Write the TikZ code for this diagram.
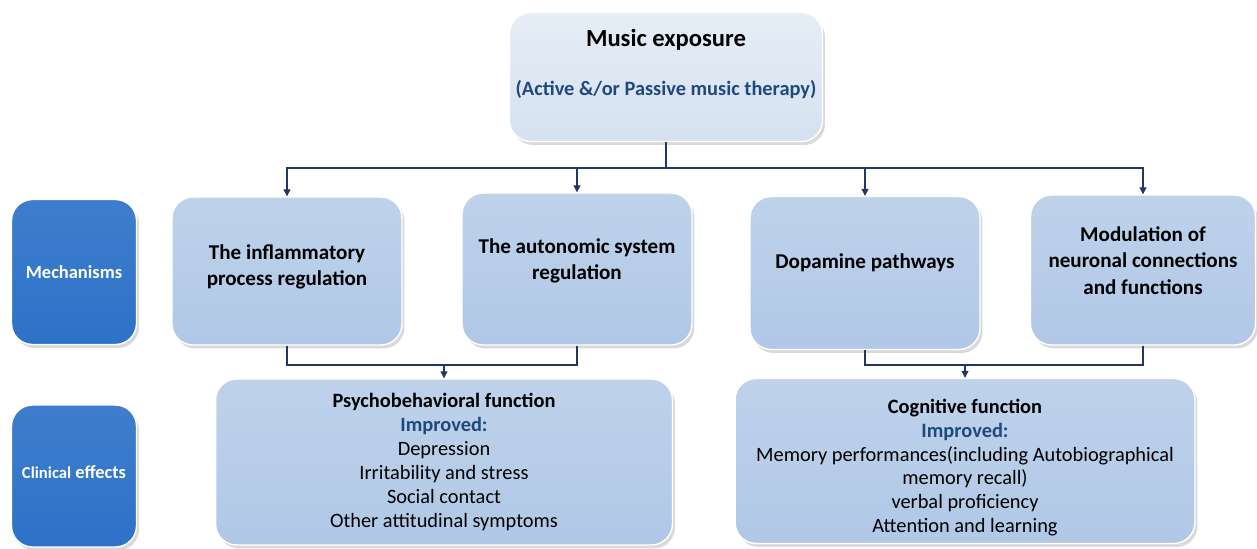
\documentclass[tikz,border=0pt]{standalone}
\usepackage{fontspec}
\setmainfont{Carlito}
\usetikzlibrary{shadows,arrows.meta}

\definecolor{boxblue}{HTML}{B0C8E6}
\definecolor{topbox}{HTML}{D5E1F0}
\definecolor{darkblue}{HTML}{2D72C8}
\definecolor{linkblue}{HTML}{1F3864}
\definecolor{impblue}{HTML}{1F497D}

\tikzset{
  softshadow/.style={drop shadow={opacity=0.3,shadow xshift=0.05cm,shadow yshift=-0.07cm}},
  mechbox/.style={draw=white,line width=0.8pt,rounded corners=0.42cm,top color=boxblue!82!white,bottom color=boxblue,
    softshadow,align=center,font=\bfseries\fontsize{12}{15}\selectfont},
  effectbox/.style={mechbox,font=\fontsize{11.6}{13.6}\selectfont},
  sidebox/.style={draw=white,line width=0.8pt,rounded corners=0.42cm,top color=darkblue!92!white,bottom color=darkblue,
    softshadow,text=white,align=center,minimum width=2.5cm,font=\bfseries\fontsize{10.5}{12}\selectfont},
  link/.style={draw=linkblue,line width=0.6pt},
  arr/.style={link,-{Triangle[length=4pt,width=4pt]}}
}

\begin{document}
\begin{tikzpicture}[x=0.02cm,y=-0.02cm]
\useasboundingbox (0,0) rectangle (1257,548);

% top box
\node[mechbox,top color=topbox!60!white,bottom color=topbox,minimum width=6.26cm,minimum height=2.58cm] (music) at (666,77)
  {\fontsize{14}{17}\selectfont Music exposure\\[0.45cm]
   {\color{impblue}\fontsize{11.6}{14}\selectfont (Active \&/or Passive music therapy)}\\[0.05cm]};

% side labels
\node[sidebox,minimum height=2.9cm] (mech) at (74,272) {Mechanisms};
\node[sidebox,minimum height=2.84cm] (clin) at (74,476) {{\fontsize{9.5}{12}\selectfont Clinical} effects\\[-0.25cm]};

% mechanisms
\node[mechbox,minimum width=4.6cm,minimum height=2.96cm] (inflam) at (287,271) {The inflammatory\\process regulation\\[-0.3cm]};
\node[mechbox,minimum width=4.6cm,minimum height=3.04cm] (auto) at (577,269) {The autonomic system\\regulation\\[-0.12cm]};
\node[mechbox,minimum width=4.6cm,minimum height=3.06cm] (dopa) at (865,273) {Dopamine pathways\\[-0.05cm]};
\node[mechbox,minimum width=4.5cm,minimum height=3.0cm] (modu) at (1143,270) {Modulation of\\neuronal connections\\and functions\\[-0.15cm]};

% clinical effects
\node[effectbox,minimum width=9.14cm,minimum height=3.32cm] (psycho) at (444,462)
  {\textbf{Psychobehavioral function}\\
   {\color{impblue}\bfseries Improved:}\\
   Depression\\
   Irritability and stress\\
   Social contact\\
   Other attitudinal symptoms};
\node[effectbox,minimum width=9.2cm,minimum height=3.3cm] (cogn) at (965,461)
  {\rule{0pt}{0.55cm}\textbf{Cognitive function}\\
   {\color{impblue}\bfseries Improved:}\\
   Memory performances(including Autobiographical\\
   memory recall)\\
   verbal proficiency\\
   Attention and learning};

% connectors
\coordinate (split) at (666,168);
\coordinate (joinL) at (444,365);
\coordinate (joinR) at (965,365);
\draw[link] (music.south) -- (split);
\draw[arr] (split) -| (inflam.north);
\draw[arr] (split) -| (auto.north);
\draw[arr] (split) -| (dopa.north);
\draw[arr] (split) -| (modu.north);
\draw[link] (inflam.south) |- (joinL);
\draw[link] (auto.south) |- (joinL);
\draw[arr] (joinL) -- (psycho.north);
\draw[link] (dopa.south) |- (joinR);
\draw[link] (modu.south) |- (joinR);
\draw[arr] (joinR) -- (cogn.north);
\end{tikzpicture}
\end{document}
